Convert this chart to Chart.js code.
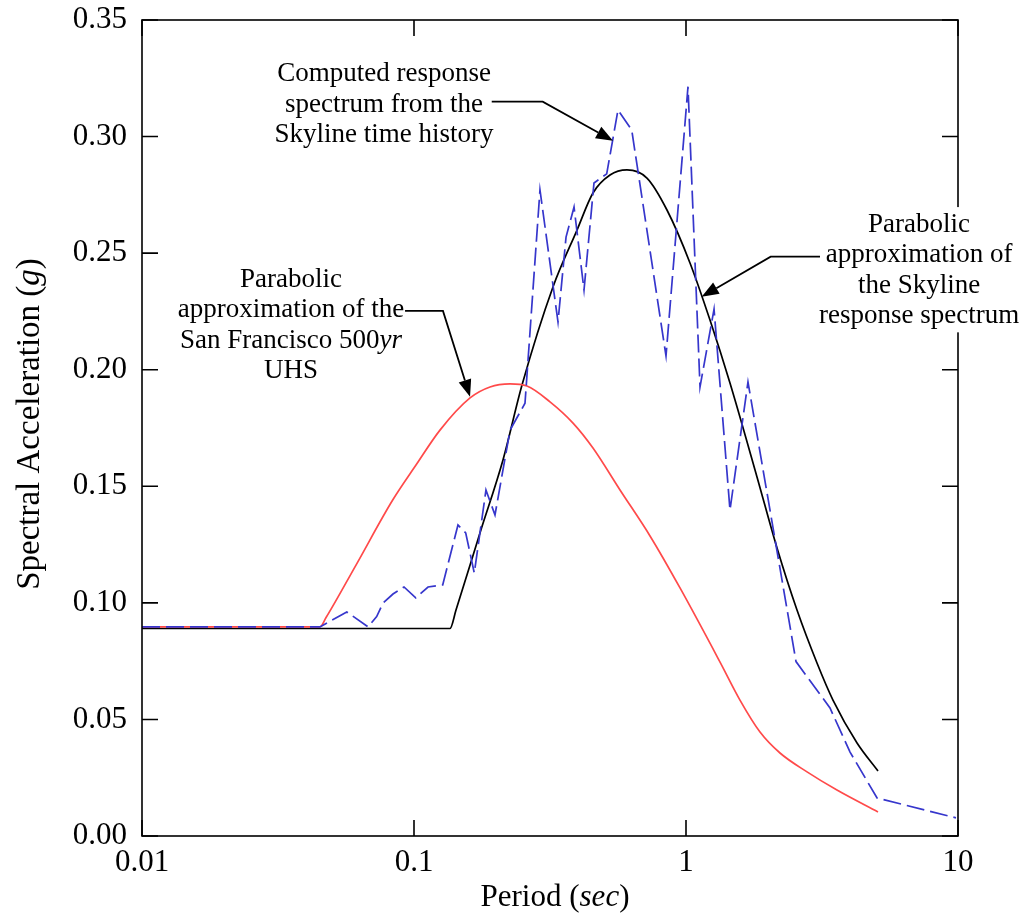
<!DOCTYPE html>
<html><head><meta charset="utf-8">
<script src="https://cdn.jsdelivr.net/npm/chart.js@4.4.0/dist/chart.umd.min.js"></script>
<style>html,body{margin:0;padding:0;background:#fff;}#wrap{width:1023px;height:916px;}</style>
</head><body><div id="wrap"><canvas id="c" width="1023" height="916"></canvas></div>
<script>
// ---- data ----
const xTickVals = [0.01, 0.1, 1, 10];
const xTickLabels = ['0.01', '0.1', '1', '10'];
const yTickVals = [0, 0.05, 0.10, 0.15, 0.20, 0.25, 0.30, 0.35];
const yTickLabels = ['0.00', '0.05', '0.10', '0.15', '0.20', '0.25', '0.30', '0.35'];

// computed response spectrum (blue dashed)
const computedPeriods = [0.01, 0.0451, 0.0566, 0.0678, 0.0729, 0.0769, 0.0837, 0.0919, 0.1015, 0.1126, 0.1275, 0.1451, 0.1549, 0.1666, 0.1839, 0.1985, 0.2255, 0.2559, 0.2905, 0.3384, 0.3622, 0.3876, 0.4217, 0.4589, 0.5111, 0.5623, 0.6316, 0.8443, 1.017, 1.126, 1.268, 1.451, 1.690, 2.538, 3.384, 4.01, 5.04, 9.83];
const computedAccel   = [0.0897, 0.0897, 0.0961, 0.0897, 0.0941, 0.0999, 0.1038, 0.1068, 0.1021, 0.1068, 0.1077, 0.1334, 0.1300, 0.1128, 0.1484, 0.1377, 0.1741, 0.1856, 0.2771, 0.2205, 0.2569, 0.2698, 0.2342, 0.2801, 0.2840, 0.3114, 0.3028, 0.2059, 0.3214, 0.1926, 0.2260, 0.1398, 0.1947, 0.0748, 0.0549, 0.0360, 0.0163, 0.0078];

// parabolic approximation of the Skyline spectrum (black)
const skylinePeriods = [0.01, 0.1356, 0.1427, 0.1748, 0.2124, 0.2495, 0.3243, 0.3975, 0.4550, 0.5256, 0.6068, 0.7186, 0.8513, 1.0344, 1.2252, 1.451, 1.824, 2.161, 2.559, 3.031, 3.47, 4.254, 5.08];
const skylineAccel   = [0.0890, 0.0890, 0.0969, 0.1300, 0.1613, 0.1934, 0.2355, 0.2599, 0.2758, 0.2835, 0.2857, 0.2822, 0.2685, 0.2458, 0.2213, 0.1943, 0.1540, 0.1235, 0.0969, 0.0742, 0.0583, 0.0399, 0.0279];

// parabolic approximation of the San Francisco 500yr UHS (red)
const uhsPeriods = [0.01, 0.0451, 0.0475, 0.0612, 0.0835, 0.1017, 0.1246, 0.1607, 0.1903, 0.2255, 0.2602, 0.3162, 0.3843, 0.4550, 0.5720, 0.7374, 0.9506, 1.334, 1.579, 1.871, 2.216, 2.786, 3.589, 5.08];
const uhsAccel   = [0.0897, 0.0897, 0.0937, 0.1162, 0.1441, 0.1591, 0.1741, 0.1879, 0.1926, 0.1939, 0.1930, 0.1862, 0.1771, 0.1664, 0.1484, 0.1287, 0.1064, 0.0746, 0.0583, 0.0446, 0.0356, 0.0275, 0.0197, 0.0103];

// annotation texts (anchor in data coords: centre x, first baseline y)
const note1Lines = ['Computed response', 'spectrum from the', 'Skyline time history'];
const note2Lines = ['Parabolic', 'approximation of the', 'San Francisco 500*yr*', 'UHS'];
const note3Lines = ['Parabolic', 'approximation of', 'the Skyline', 'response spectrum'];
const xTitle = 'Period (*sec*)';
const yTitle = 'Spectral Acceleration (*g*)';

const FONT = '"Liberation Serif", "Times New Roman", serif';
const notes = [
  {x: 0.0776, y: 0.3238, lines: note1Lines},
  {x: 0.0353, y: 0.2355, lines: note2Lines},
  {x: 7.19,   y: 0.2591, lines: note3Lines, bg: true}
];
const arrows = [
  [[0.1931, 0.3150], [0.2973, 0.3150], [0.5391, 0.2982]],
  [[0.0927, 0.2252], [0.1278, 0.2252], [0.1607, 0.1884]],
  [[3.109, 0.2485], [2.048, 0.2485], [1.142, 0.2313]]
];

function pairs(xs, ys) { return xs.map((x, i) => ({x: x, y: ys[i]})); }
function parseRich(s) {
  const parts = s.split('*'); const out = [];
  parts.forEach((p, i) => { if (p.length) out.push({t: p, i: i % 2 === 1}); });
  return out;
}
function setFont(ctx, it, size) { ctx.font = (it ? 'italic ' : '') + size + 'px ' + FONT; }
function richWidth(ctx, segs, size) {
  let w = 0; segs.forEach(s => { setFont(ctx, s.i, size); w += ctx.measureText(s.t).width; }); return w;
}
function drawRich(ctx, str, size, cx, by) {
  const segs = parseRich(str); const w = richWidth(ctx, segs, size);
  let xx = cx - w / 2;
  ctx.textAlign = 'left'; ctx.textBaseline = 'alphabetic';
  segs.forEach(s => { setFont(ctx, s.i, size); ctx.fillText(s.t, xx, by); xx += ctx.measureText(s.t).width; });
  return w;
}

const NOTE_SIZE = 27, NOTE_LH = 30.5, TICK_LEN = 16;

const decor = {
  id: 'decor',
  afterDraw(chart) {
    const ctx = chart.ctx, a = chart.chartArea, xs = chart.scales.x, ys = chart.scales.y;
    ctx.save();
    ctx.strokeStyle = '#000'; ctx.lineWidth = 1.6;
    ctx.strokeRect(a.left, a.top, a.right - a.left, a.bottom - a.top);
    ctx.beginPath();
    yTickVals.forEach(v => {
      const py = ys.getPixelForValue(v);
      ctx.moveTo(a.left, py); ctx.lineTo(a.left + TICK_LEN, py);
      ctx.moveTo(a.right, py); ctx.lineTo(a.right - TICK_LEN, py);
    });
    xTickVals.forEach(v => {
      const px = xs.getPixelForValue(v);
      ctx.moveTo(px, a.bottom); ctx.lineTo(px, a.bottom - TICK_LEN);
      ctx.moveTo(px, a.top); ctx.lineTo(px, a.top + TICK_LEN);
    });
    ctx.stroke();

    // notes
    ctx.fillStyle = '#000';
    notes.forEach(n => {
      const cx = xs.getPixelForValue(n.x), by = ys.getPixelForValue(n.y);
      if (n.bg) {
        let mw = 0;
        n.lines.forEach(l => { mw = Math.max(mw, richWidth(ctx, parseRich(l), NOTE_SIZE)); });
        ctx.fillStyle = '#fff';
        ctx.fillRect(cx - mw / 2 - 3, by - NOTE_SIZE * 0.92, mw + 6, NOTE_LH * (n.lines.length - 1) + NOTE_SIZE * 1.25);
        ctx.fillStyle = '#000';
      }
      n.lines.forEach((l, i) => drawRich(ctx, l, NOTE_SIZE, cx, by + i * NOTE_LH));
    });

    // arrows
    ctx.lineWidth = 1.8; ctx.strokeStyle = '#000'; ctx.fillStyle = '#000';
    arrows.forEach(pts => {
      const p = pts.map(q => [xs.getPixelForValue(q[0]), ys.getPixelForValue(q[1])]);
      const t = p[p.length - 1], b = p[p.length - 2];
      const dx = t[0] - b[0], dy = t[1] - b[1], L = Math.hypot(dx, dy);
      const ux = dx / L, uy = dy / L, HL = 17, HW = 6.5;
      const bx = t[0] - ux * HL, byy = t[1] - uy * HL;
      ctx.beginPath();
      ctx.moveTo(p[0][0], p[0][1]);
      for (let i = 1; i < p.length - 1; i++) ctx.lineTo(p[i][0], p[i][1]);
      ctx.lineTo(bx, byy);
      ctx.stroke();
      ctx.beginPath();
      ctx.moveTo(t[0], t[1]);
      ctx.lineTo(bx - uy * HW, byy + ux * HW);
      ctx.lineTo(bx + uy * HW, byy - ux * HW);
      ctx.closePath(); ctx.fill();
    });

    // axis titles
    ctx.fillStyle = '#000';
    drawRich(ctx, xTitle, 31, (a.left + a.right) / 2 + 5, 906);
    ctx.translate(39, (a.top + a.bottom) / 2 - 4);
    ctx.rotate(-Math.PI / 2);
    drawRich(ctx, yTitle, 33, 0, 0);
    ctx.restore();
  }
};

new Chart(document.getElementById('c'), {
  type: 'line',
  data: {
    datasets: [
      {label: 'Computed', data: pairs(computedPeriods, computedAccel), borderColor: '#3636cc', borderWidth: 1.7,
       borderDash: [18, 6], pointRadius: 0, tension: 0, order: 0, fill: false},
      {label: 'UHS', data: pairs(uhsPeriods, uhsAccel), borderColor: '#ff4a4a', borderWidth: 1.7,
       pointRadius: 0, cubicInterpolationMode: 'monotone', order: 1, fill: false},
      {label: 'Skyline', data: pairs(skylinePeriods, skylineAccel), borderColor: '#000', borderWidth: 1.7,
       pointRadius: 0, cubicInterpolationMode: 'monotone', order: 2, fill: false}
    ]
  },
  options: {
    responsive: false, animation: false, devicePixelRatio: 1,
    layout: {padding: {left: 0, right: 65, top: 20, bottom: 0}},
    plugins: {legend: {display: false}, tooltip: {enabled: false}},
    scales: {
      x: {
        type: 'logarithmic', min: 0.01, max: 10,
        grid: {display: false, drawTicks: false}, border: {display: false},
        afterBuildTicks: s => { s.ticks = xTickVals.map(v => ({value: v})); },
        afterFit: s => { s.height = 80; s.paddingLeft = 0; s.paddingRight = 0; },
        ticks: {font: {family: FONT, size: 31}, color: '#000', padding: 8, autoSkip: false, maxRotation: 0,
          callback: v => { const i = xTickVals.findIndex(t => Math.abs(t - v) < 1e-12); return i >= 0 ? xTickLabels[i] : ''; }}
      },
      y: {
        min: 0, max: 0.35,
        grid: {display: false, drawTicks: false}, border: {display: false},
        afterBuildTicks: s => { s.ticks = yTickVals.map(v => ({value: v})); },
        afterFit: s => { s.width = 142; s.paddingTop = 0; s.paddingBottom = 0; },
        ticks: {font: {family: FONT, size: 31}, color: '#000', padding: 15,
          callback: v => { const i = yTickVals.findIndex(t => Math.abs(t - v) < 1e-9); return i >= 0 ? yTickLabels[i] : ''; }}
      }
    }
  },
  plugins: [decor]
});
</script></body></html>
